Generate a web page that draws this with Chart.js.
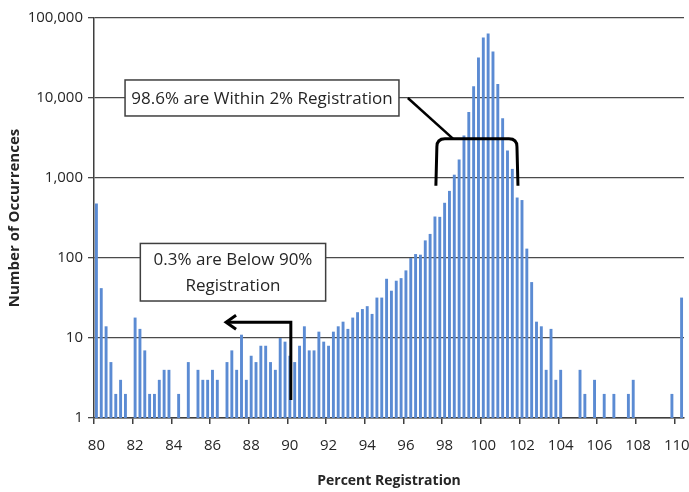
<!DOCTYPE html>
<html>
<head>
<meta charset="utf-8">
<script src="https://cdn.jsdelivr.net/npm/chart.js@4.4.1/dist/chart.umd.min.js"></script>
<style>
  html, body { margin: 0; padding: 0; background: #fff; }
  #wrap { width: 689px; height: 492px; position: relative; }
</style>
</head>
<body>
<div id="wrap"><canvas id="regChart"></canvas></div>
<script>
// bins of percent registration (0.25 wide)
const categories = [
  80, 80.25, 80.5, 80.75, 81, 81.25, 81.5, 81.75,
  82, 82.25, 82.5, 82.75, 83, 83.25, 83.5, 83.75,
  84, 84.25, 84.5, 84.75, 85, 85.25, 85.5, 85.75,
  86, 86.25, 86.5, 86.75, 87, 87.25, 87.5, 87.75,
  88, 88.25, 88.5, 88.75, 89, 89.25, 89.5, 89.75,
  90, 90.25, 90.5, 90.75, 91, 91.25, 91.5, 91.75,
  92, 92.25, 92.5, 92.75, 93, 93.25, 93.5, 93.75,
  94, 94.25, 94.5, 94.75, 95, 95.25, 95.5, 95.75,
  96, 96.25, 96.5, 96.75, 97, 97.25, 97.5, 97.75,
  98, 98.25, 98.5, 98.75, 99, 99.25, 99.5, 99.75,
  100, 100.25, 100.5, 100.75, 101, 101.25, 101.5, 101.75,
  102, 102.25, 102.5, 102.75, 103, 103.25, 103.5, 103.75,
  104, 104.25, 104.5, 104.75, 105, 105.25, 105.5, 105.75,
  106, 106.25, 106.5, 106.75, 107, 107.25, 107.5, 107.75,
  108, 108.25, 108.5, 108.75, 109, 109.25, 109.5, 109.75,
  110, 110.25
];

// number of occurrences per bin (null = empty bin)
const occurrences = [
  480, 42, 14, 5, 2, 3, 2, null,
  18, 13, 7, 2, 2, 3, 4, 4,
  null, 2, null, 5, null, 4, 3, 3,
  4, 3, null, 5, 7, 4, 11, 3,
  6, 5, 8, 8, 5, 4, 10, 9,
  6, 5, 8, 14, 7, 7, 12, 9,
  8, 12, 14, 16, 13, 18, 21, 23,
  25, 20, 32, 32, 55, 39, 52, 56,
  70, 100, 112, 110, 166, 200, 330, 327,
  490, 690, 1100, 1700, 3400, 6700, 14000, 32000,
  57000, 64000, 38000, 15000, 5600, 2200, 1300, 570,
  530, 131, 50, 16, 14, 4, 13, 3,
  4, null, null, null, 4, 2, null, 3,
  null, 2, null, 2, null, null, 2, 3,
  null, null, null, null, null, null, null, 2,
  null, 32
];

const xTickLabels = [80, 82, 84, 86, 88, 90, 92, 94, 96, 98, 100, 102, 104, 106, 108, 110];
const yTickValues = [1, 10, 100, 1000, 10000, 100000];

const binWidth = categories[1] - categories[0];
const axisColor = '#3f3f3f';
const textColor = '#262626';

// callouts drawn on top, anchored in data units
const calloutPlugin = {
  id: 'callouts',
  afterDraw(chart) {
    const { ctx, scales: { x, y } } = chart;
    const px = v => x.getPixelForValue((v - categories[0]) / binWidth);
    const py = c => y.getPixelForValue(c);

    ctx.save();

    // box: within 2%
    let l = px(81.48), r = px(95.64), t = py(16800), b = py(5960);
    ctx.fillStyle = '#fff';
    ctx.strokeStyle = axisColor;
    ctx.lineWidth = 1.5;
    ctx.fillRect(l, t, r - l, b - t);
    ctx.strokeRect(l, t, r - l, b - t);
    ctx.fillStyle = textColor;
    ctx.font = '17px "Open Sans"';
    ctx.textAlign = 'center';
    ctx.textBaseline = 'middle';
    ctx.fillText('98.6% are Within 2% Registration', (l + r) / 2, (t + b) / 2 + 1);

    // connector + bracket
    ctx.strokeStyle = '#000';
    ctx.lineWidth = 2.5;
    ctx.beginPath();
    ctx.moveTo(px(96.1), py(10000));
    ctx.lineTo(px(98.43), py(3100));
    ctx.stroke();

    const bl = px(97.6), br = px(101.74), bt = py(3100), bb = py(800), rad = 8;
    ctx.lineWidth = 3;
    ctx.beginPath();
    ctx.moveTo(bl - 1, bb);
    ctx.lineTo(bl, bt + rad);
    ctx.quadraticCurveTo(bl, bt, bl + rad, bt);
    ctx.lineTo(br - rad, bt);
    ctx.quadraticCurveTo(br, bt, br, bt + rad);
    ctx.lineTo(br + 1, bb);
    ctx.stroke();

    // box: below 90%
    l = px(82.27); r = px(91.85); t = py(152); b = py(29);
    ctx.fillStyle = '#fff';
    ctx.strokeStyle = axisColor;
    ctx.lineWidth = 1.5;
    ctx.fillRect(l, t, r - l, b - t);
    ctx.strokeRect(l, t, r - l, b - t);
    ctx.fillStyle = textColor;
    const cx = (l + r) / 2, cy = (t + b) / 2;
    ctx.fillText('0.3% are Below 90%', cx, cy - 12);
    ctx.fillText('Registration', cx, cy + 14);

    // arrow pointing left from 90%
    const ax = px(90.05), ay = py(15.7), tip = px(86.65);
    ctx.strokeStyle = '#000';
    ctx.lineWidth = 3;
    ctx.beginPath();
    ctx.moveTo(ax, py(1.68));
    ctx.lineTo(ax, ay);
    ctx.lineTo(tip + 2, ay);
    ctx.stroke();
    ctx.beginPath();
    ctx.moveTo(tip + 11, ay - 7);
    ctx.lineTo(tip + 1, ay);
    ctx.lineTo(tip + 11, ay + 7);
    ctx.stroke();

    ctx.restore();
  }
};

const chart = new Chart(document.getElementById('regChart'), {
  type: 'bar',
  data: {
    labels: categories,
    datasets: [{
      label: 'Occurrences',
      data: occurrences,
      backgroundColor: '#5b8bd3',
      borderWidth: 0,
      categoryPercentage: 1,
      barPercentage: 0.6
    }]
  },
  options: {
    responsive: true,
    maintainAspectRatio: false,
    animation: false,
    layout: {
      padding: { top: 18, right: 5, left: 0, bottom: 0 }
    },
    scales: {
      x: {
        type: 'category',
        afterFit(scale) {
          scale.height = 74;
          scale.paddingRight = 0;
        },
        grid: {
          drawOnChartArea: false,
          tickLength: 6,
          lineWidth: 1.5,
          color: ctx => (ctx.index % 8 === 0 && ctx.index < categories.length ? axisColor : 'rgba(0,0,0,0)')
        },
        border: { color: axisColor, width: 1.5 },
        ticks: {
          autoSkip: false,
          maxRotation: 0,
          minRotation: 0,
          padding: 13,
          color: textColor,
          font: { family: 'Open Sans', size: 15 },
          callback: function (value) {
            const v = categories[value];
            return xTickLabels.includes(v) ? String(v) : '';
          }
        },
        title: {
          display: true,
          text: 'Percent Registration',
          color: textColor,
          font: { family: 'Open Sans', size: 14, weight: 'bold' },
          padding: { top: 8, bottom: 3 }
        }
      },
      y: {
        type: 'logarithmic',
        min: 1,
        max: 100000,
        z: 1,
        afterFit(scale) { scale.width = 94; },
        afterBuildTicks(scale) {
          scale.ticks = yTickValues.map(v => ({ value: v }));
        },
        grid: {
          color: '#4a4a4a',
          lineWidth: 1.3,
          tickLength: 6
        },
        border: { color: axisColor, width: 1.5 },
        ticks: {
          padding: 5,
          color: textColor,
          font: { family: 'Open Sans', size: 15 },
          callback: v => Number(v).toLocaleString('en-US')
        },
        title: {
          display: true,
          text: 'Number of Occurrences',
          color: textColor,
          font: { family: 'Open Sans', size: 15, weight: 'bold' },
          padding: { top: 6, bottom: 4 }
        }
      }
    },
    plugins: {
      legend: { display: false },
      tooltip: { enabled: false }
    }
  },
  plugins: [calloutPlugin]
});
</script>
</body>
</html>
